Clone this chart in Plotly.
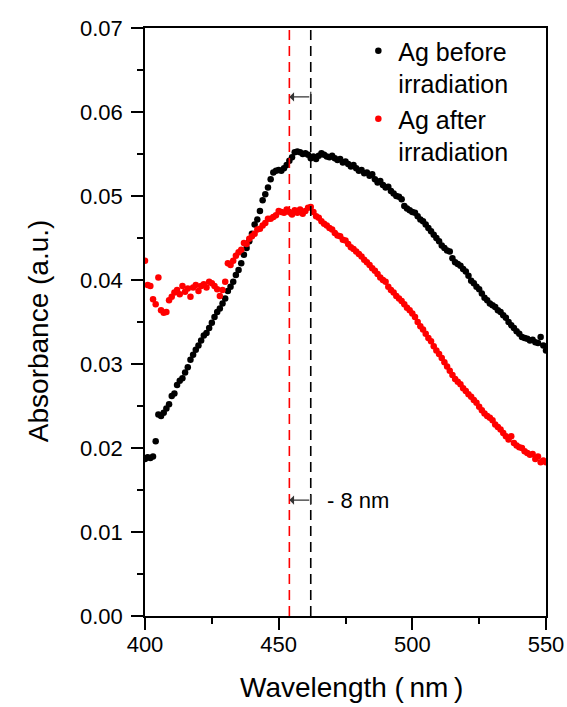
import plotly.graph_objects as go

wavelength = list(range(400, 551))

ag_before = [
    0.0187, 0.0189, 0.0188, 0.0190, 0.0208, 0.0240, 0.0238, 0.0242, 0.0247, 0.0252,
    0.0262, 0.0265, 0.0275, 0.0280, 0.0283, 0.0290, 0.0296, 0.0305, 0.0311, 0.0317,
    0.0322, 0.0328, 0.0334, 0.0337, 0.0343, 0.0349, 0.0356, 0.0362, 0.0366, 0.0372,
    0.0378, 0.0387, 0.0392, 0.0398, 0.0406, 0.0412, 0.0420, 0.0430, 0.0438, 0.0446,
    0.0455, 0.0466, 0.0472, 0.0482, 0.0495, 0.0502, 0.0510, 0.0520, 0.0528, 0.0530,
    0.0531, 0.0530, 0.0533, 0.0537, 0.0542, 0.0546, 0.0552, 0.0553, 0.0552, 0.0550,
    0.0551, 0.0549, 0.0545, 0.0547, 0.0544, 0.0548, 0.0551, 0.0549, 0.0547, 0.0546,
    0.0548, 0.0545, 0.0543, 0.0544, 0.0540, 0.0541, 0.0538, 0.0535, 0.0537, 0.0533,
    0.0530, 0.0531, 0.0527, 0.0528, 0.0524, 0.0526, 0.0520, 0.0516, 0.0518, 0.0513,
    0.0510, 0.0511, 0.0506, 0.0503, 0.0500, 0.0499, 0.0496, 0.0488, 0.0485, 0.0483,
    0.0481, 0.0480, 0.0476, 0.0472, 0.0470, 0.0466, 0.0462, 0.0458, 0.0454, 0.0450,
    0.0446, 0.0441, 0.0438, 0.0435, 0.0434, 0.0426, 0.0421, 0.0419, 0.0417, 0.0413,
    0.0410, 0.0405, 0.0399, 0.0396, 0.0392, 0.0389, 0.0384, 0.0379, 0.0376, 0.0372,
    0.0370, 0.0368, 0.0364, 0.0362, 0.0358, 0.0355, 0.0350, 0.0346, 0.0343, 0.0339,
    0.0336, 0.0332, 0.0331, 0.0330, 0.0328, 0.0329, 0.0326, 0.0325, 0.0332, 0.0322,
    0.0316,
]

ag_after = [
    0.0423, 0.0394, 0.0393, 0.0377, 0.0371, 0.0403, 0.0364, 0.0361, 0.0362, 0.0376,
    0.0380, 0.0385, 0.0388, 0.0383, 0.0393, 0.0386, 0.0390, 0.0380, 0.0391, 0.0394,
    0.0387, 0.0393, 0.0395, 0.0391, 0.0398, 0.0396, 0.0393, 0.0389, 0.0381, 0.0388,
    0.0398, 0.0420, 0.0418, 0.0423, 0.0429, 0.0433, 0.0436, 0.0444, 0.0443, 0.0449,
    0.0452, 0.0455, 0.0460, 0.0461, 0.0465, 0.0468, 0.0473, 0.0473, 0.0475, 0.0477,
    0.0482, 0.0481, 0.0480, 0.0484, 0.0481, 0.0478, 0.0483, 0.0480, 0.0484, 0.0479,
    0.0482, 0.0486, 0.0487, 0.0481, 0.0476, 0.0474, 0.0470, 0.0467, 0.0465, 0.0462,
    0.0460, 0.0456, 0.0453, 0.0452, 0.0448, 0.0447, 0.0443, 0.0439, 0.0437, 0.0434,
    0.0431, 0.0428, 0.0424, 0.0421, 0.0418, 0.0414, 0.0411, 0.0407, 0.0403, 0.0400,
    0.0398, 0.0392, 0.0388, 0.0385, 0.0381, 0.0378, 0.0375, 0.0371, 0.0367, 0.0364,
    0.0360, 0.0356, 0.0350, 0.0345, 0.0341, 0.0336, 0.0331, 0.0327, 0.0321, 0.0316,
    0.0312, 0.0307, 0.0302, 0.0297, 0.0292, 0.0287, 0.0282, 0.0279, 0.0276, 0.0271,
    0.0268, 0.0264, 0.0261, 0.0257, 0.0254, 0.0249, 0.0245, 0.0241, 0.0238, 0.0236,
    0.0233, 0.0228, 0.0225, 0.0222, 0.0218, 0.0214, 0.0210, 0.0214, 0.0206, 0.0203,
    0.0201, 0.0200, 0.0196, 0.0194, 0.0192, 0.0193, 0.0187, 0.0190, 0.0183, 0.0185,
    0.0183,
]

x_ticks = [400, 450, 500, 550]
x_minor = [425, 475, 525]
y_ticks = [0, 0.01, 0.02, 0.03, 0.04, 0.05, 0.06, 0.07]
y_minor = [0.005, 0.015, 0.025, 0.035, 0.045, 0.055, 0.065]

peak_before = 462
peak_after = 454
arrow_levels = [0.0618, 0.0138]
shift_label = "- 8 nm"

FONT = "Liberation Sans, Arial, sans-serif"

fig = go.Figure()
fig.add_trace(go.Scatter(
    x=wavelength, y=ag_before, mode="markers", name="Ag before<br>irradiation",
    marker=dict(color="black", size=6.5),
))
fig.add_trace(go.Scatter(
    x=wavelength, y=ag_after, mode="markers", name="Ag after<br>irradiation",
    marker=dict(color="#ff0000", size=6.5),
))

for xv, col in [(peak_after, "#ff0000"), (peak_before, "black")]:
    fig.add_shape(type="line", x0=xv, x1=xv, y0=0, y1=0.07, xref="x", yref="y",
                  line=dict(color=col, width=1.6, dash="10px,6px"))

for lvl in arrow_levels:
    fig.add_annotation(x=peak_after, y=lvl, ax=peak_before, ay=lvl,
                       xref="x", yref="y", axref="x", ayref="y",
                       text="", showarrow=True, arrowhead=1, arrowsize=1.3,
                       arrowwidth=1.2, arrowcolor="#333333")
    fig.add_shape(type="line", x0=peak_before, x1=peak_before,
                  y0=lvl - 0.0006, y1=lvl + 0.0006, xref="x", yref="y",
                  line=dict(color="#333333", width=1.2))

fig.add_annotation(x=467.5, y=arrow_levels[1], xref="x", yref="y", text=shift_label,
                   showarrow=False, xanchor="left", yanchor="middle",
                   font=dict(size=22, color="black", family=FONT))

# axis titles
fig.add_annotation(x=-0.267, y=0.486, xref="paper", yref="paper",
                   text="Absorbance (a.u.)", textangle=-90, showarrow=False,
                   xanchor="center", yanchor="middle",
                   font=dict(size=28, color="black", family=FONT))
fig.add_annotation(x=0.516, y=-0.122, xref="paper", yref="paper",
                   text="Wavelength (\u2009nm\u2009)", showarrow=False,
                   xanchor="center", yanchor="middle",
                   font=dict(size=28, color="black", family=FONT))

fig.update_layout(
    width=567, height=707,
    margin=dict(l=145, r=21, t=28, b=91),
    paper_bgcolor="white", plot_bgcolor="white",
    font=dict(family=FONT, color="black"),
    showlegend=True,
    legend=dict(x=0.532, y=1.0, xanchor="left", yanchor="top",
                font=dict(size=25, family=FONT), valign="top",
                bgcolor="rgba(0,0,0,0)", tracegroupgap=0),
)
fig.update_xaxes(
    range=[400, 550], tickvals=x_ticks, automargin=False,
    ticks="outside", ticklen=12, tickwidth=1.6, tickcolor="black",
    minor=dict(tickvals=x_minor, ticks="outside", ticklen=6, tickwidth=1.6, tickcolor="black"),
    showline=True, linecolor="black", linewidth=1.6, mirror=True,
    showgrid=False, zeroline=False, ticklabelstandoff=-4,
    tickfont=dict(size=22, family=FONT),
)
fig.update_yaxes(
    range=[0, 0.07], tickvals=y_ticks, tickformat=".2f", automargin=False,
    ticks="outside", ticklen=12, tickwidth=1.6, tickcolor="black",
    minor=dict(tickvals=y_minor, ticks="outside", ticklen=6, tickwidth=1.6, tickcolor="black"),
    showline=True, linecolor="black", linewidth=1.6, mirror=True,
    showgrid=False, zeroline=False, ticklabelstandoff=4,
    tickfont=dict(size=22, family=FONT),
)

fig.write_html("out.html")
